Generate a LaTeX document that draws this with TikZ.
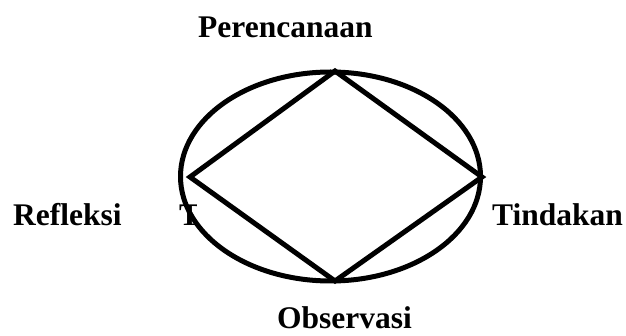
\documentclass[tikz,border=0pt]{standalone}
\usepackage{fontspec}
\setmainfont{Liberation Serif}
\usepackage{tikz}
\usetikzlibrary{positioning, calc}
\tikzset{
  siklus/.style={line width=5pt, line join=miter},
  tahap/.style={font=\fontsize{31.5}{37}\selectfont\bfseries, inner sep=0pt}
}

\begin{document}
\begin{tikzpicture}[x=1pt, y=-1pt]
% canvas: 626 x 336, y grows downwards
\useasboundingbox (0,0) rectangle (626,336);
% corners of the diamond
\coordinate (atas)   at (335,71);
\coordinate (kiri)   at (190,177);
\coordinate (kanan)  at (482,177);
\coordinate (bawah)  at (335,281);
% stray letter behind the left rim
\begin{scope}
  \clip (170,195) rectangle (196,232);
  \node[tahap, anchor=base west] (sisa) at (179,226) {T};
\end{scope}
% cycle
\draw[siklus] (330.5,176.5) ellipse (150 and 104.5);
\draw[siklus] (atas) -- (kanan) -- (bawah) -- (kiri) -- cycle;
% stages
\node[tahap, anchor=base west] (rencana) at (198,38)  {Perencanaan};
\node[tahap, anchor=base west] (tindak)  at (492,226) {Tindakan};
\node[tahap, anchor=base west] (amat)    at (277,329) {Observasi};
\node[tahap, anchor=base west] (refleksi) at (13,226) {Refleksi};
\end{tikzpicture}
\end{document}
